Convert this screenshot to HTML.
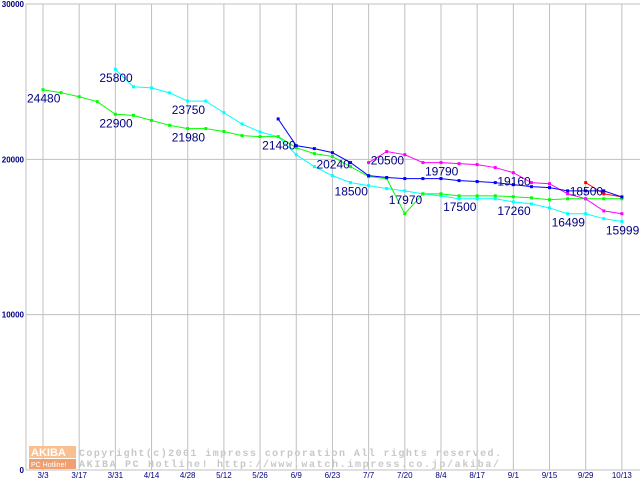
<!DOCTYPE html>
<html><head><meta charset="utf-8"><style>
html,body{margin:0;padding:0;background:#fff;}
svg{display:block;font-family:"Liberation Sans",sans-serif;}
</style></head><body>
<svg id="chart" width="640" height="480" viewBox="0 0 640 480" xmlns="http://www.w3.org/2000/svg">
<g id="grid"></g>
<g id="yaxis"></g>
<g id="xaxis"></g>
<g id="watermark">
 <rect x="29" y="446" width="47" height="12" fill="#f8c090"/>
 <text x="31" y="456" font-size="11" font-weight="bold" fill="#fff">AKIBA</text>
 <rect x="29" y="459" width="47" height="10" fill="#f0a070"/>
 <text x="31" y="467" font-size="7" fill="#fff">PC Hotline!</text>
 <text x="79" y="456" font-size="10" fill="#c8c8c8" font-weight="bold" font-family="Liberation Mono, monospace" textLength="422" lengthAdjust="spacing">Copyright(c)2001 impress corporation All rights reserved.</text>
 <text x="79" y="467" font-size="10" fill="#c8c8c8" font-weight="bold" font-family="Liberation Mono, monospace" textLength="420" lengthAdjust="spacing">AKIBA PC Hotline!  http://www.watch.impress.co.jp/akiba/</text>
</g>
<g id="series"></g>
<g id="labels"></g>
</svg>
<script>
const xTickLabels = ["3/3","3/17","3/31","4/14","4/28","5/12","5/26","6/9","6/23","7/7","7/20","8/4","8/17","9/1","9/15","9/29","10/13"];
const yTicks = [0,10000,20000,30000];
// weekly values, index 0 = 3/3 ... 32 = 10/13 (null = no data)
const greenValues = [24480,24290,24030,23710,22900,22830,22500,22190,21980,21980,21790,21530,21460,21460,20750,20370,20180,19530,18890,18760,16500,17780,17780,17650,17650,17650,17590,17520,17400,17460,17460,17460,17460];
const cyanValues = [null,null,null,null,25800,24670,24600,24280,23750,23750,23000,22280,21760,21460,20300,19530,18950,18500,18310,18120,17970,17780,17650,17460,17460,17460,17260,17130,16870,16499,16499,16180,15999];
const blueValues = [null,null,null,null,null,null,null,null,null,null,null,null,null,22600,20880,20690,20430,19790,18950,18830,18760,18760,18760,18630,18570,18500,18370,18240,18180,17970,17970,17970,17580];
const magentaValues = [null,null,null,null,null,null,null,null,null,null,null,null,null,null,null,null,null,null,19790,20500,20300,19790,19790,19720,19660,19470,19140,18500,18430,17780,17460,16680,16499];
const redValues = [null,null,null,null,null,null,null,null,null,null,null,null,null,null,null,null,null,null,null,null,null,null,null,null,null,null,null,null,null,null,18500,17780,17580];
const labelTexts = ["24480","25800","22900","23750","21980","21480","20240","20500","19790","18500","19160","17970","17500","17260","18500","16499","15999"];
const labelIndex = [0,4,4,8,8,13,16,19,22,17,26,20,23,26,30,29,32];
const labelValues = [24480,25800,22900,23750,21980,21480,20240,20500,19790,18500,19160,17970,17500,17260,18500,16499,15999];

const NS="http://www.w3.org/2000/svg";
const X0=43, WSTEP=18.09, YB=470, YT=4, YMAX=30000;
function xPos(i){return X0+i*WSTEP;}
function yPos(v){return YB-(v/YMAX)*(YB-YT);}
function mk(tag,attrs,parent){const e=document.createElementNS(NS,tag);for(const k in attrs)e.setAttribute(k,attrs[k]);parent.appendChild(e);return e;}

const grid=document.getElementById('grid');
mk('rect',{x:26,y:4,width:614,height:466,fill:'#fff',stroke:'none'},grid);
yTicks.forEach(v=>{
 const l=mk('line',{x1:26,x2:640,y1:yPos(v),y2:yPos(v),stroke:'#c0c0c0','stroke-width':1},grid);
 
 
});
xTickLabels.forEach((t,k)=>{
 const x=xPos(k*2);
 const l=mk('line',{x1:x,x2:x,y1:4,y2:470,stroke:'#c0c0c0','stroke-width':1},grid);
 
 
});
mk('line',{x1:26,x2:26,y1:4,y2:470,stroke:'#c0c0c0','stroke-width':1},grid);
const ya=document.getElementById('yaxis');
yTicks.forEach(v=>{
 const t=mk('text',{x:24,y:yPos(v)+3,'font-size':8,'font-weight':'bold',fill:'#000080','text-anchor':'end'},ya);
 t.textContent=String(v);
 
 
});
const xa=document.getElementById('xaxis');
xTickLabels.forEach((s,k)=>{
 const t=mk('text',{x:xPos(k*2),y:478,'font-size':8,fill:'#000080','text-anchor':'middle'},xa);
 t.textContent=s;
 
 
});
const sg=document.getElementById('series');
function drawSeries(vals,color,name){
 const g=mk('g',{},sg);
 
 
 let pts=[];
 vals.forEach((v,i)=>{if(v!=null)pts.push([xPos(i),yPos(v)]);});
 const p=mk('polyline',{points:pts.map(p=>p.join(',')).join(' '),fill:'none',stroke:color,'stroke-width':1},g);
 
 
 pts.forEach(q=>{
  const r=mk('rect',{x:q[0]-1.5,y:q[1]-1.5,width:3,height:3,fill:color},g);
  
  
 });
}
drawSeries(cyanValues,'#00ffff','series-cyan');
drawSeries(greenValues,'#00ff00','series-green');
drawSeries(magentaValues,'#ff00ff','series-magenta');
drawSeries(redValues,'#ff0000','series-red');
drawSeries(blueValues,'#0000ff','series-blue');
const lg=document.getElementById('labels');
labelTexts.forEach((s,k)=>{
 const t=mk('text',{x:xPos(labelIndex[k])-16,y:yPos(labelValues[k])+13,'font-size':12,fill:'#000080'},lg);
 t.textContent=s;
 
 
});
</script>
</body></html>
